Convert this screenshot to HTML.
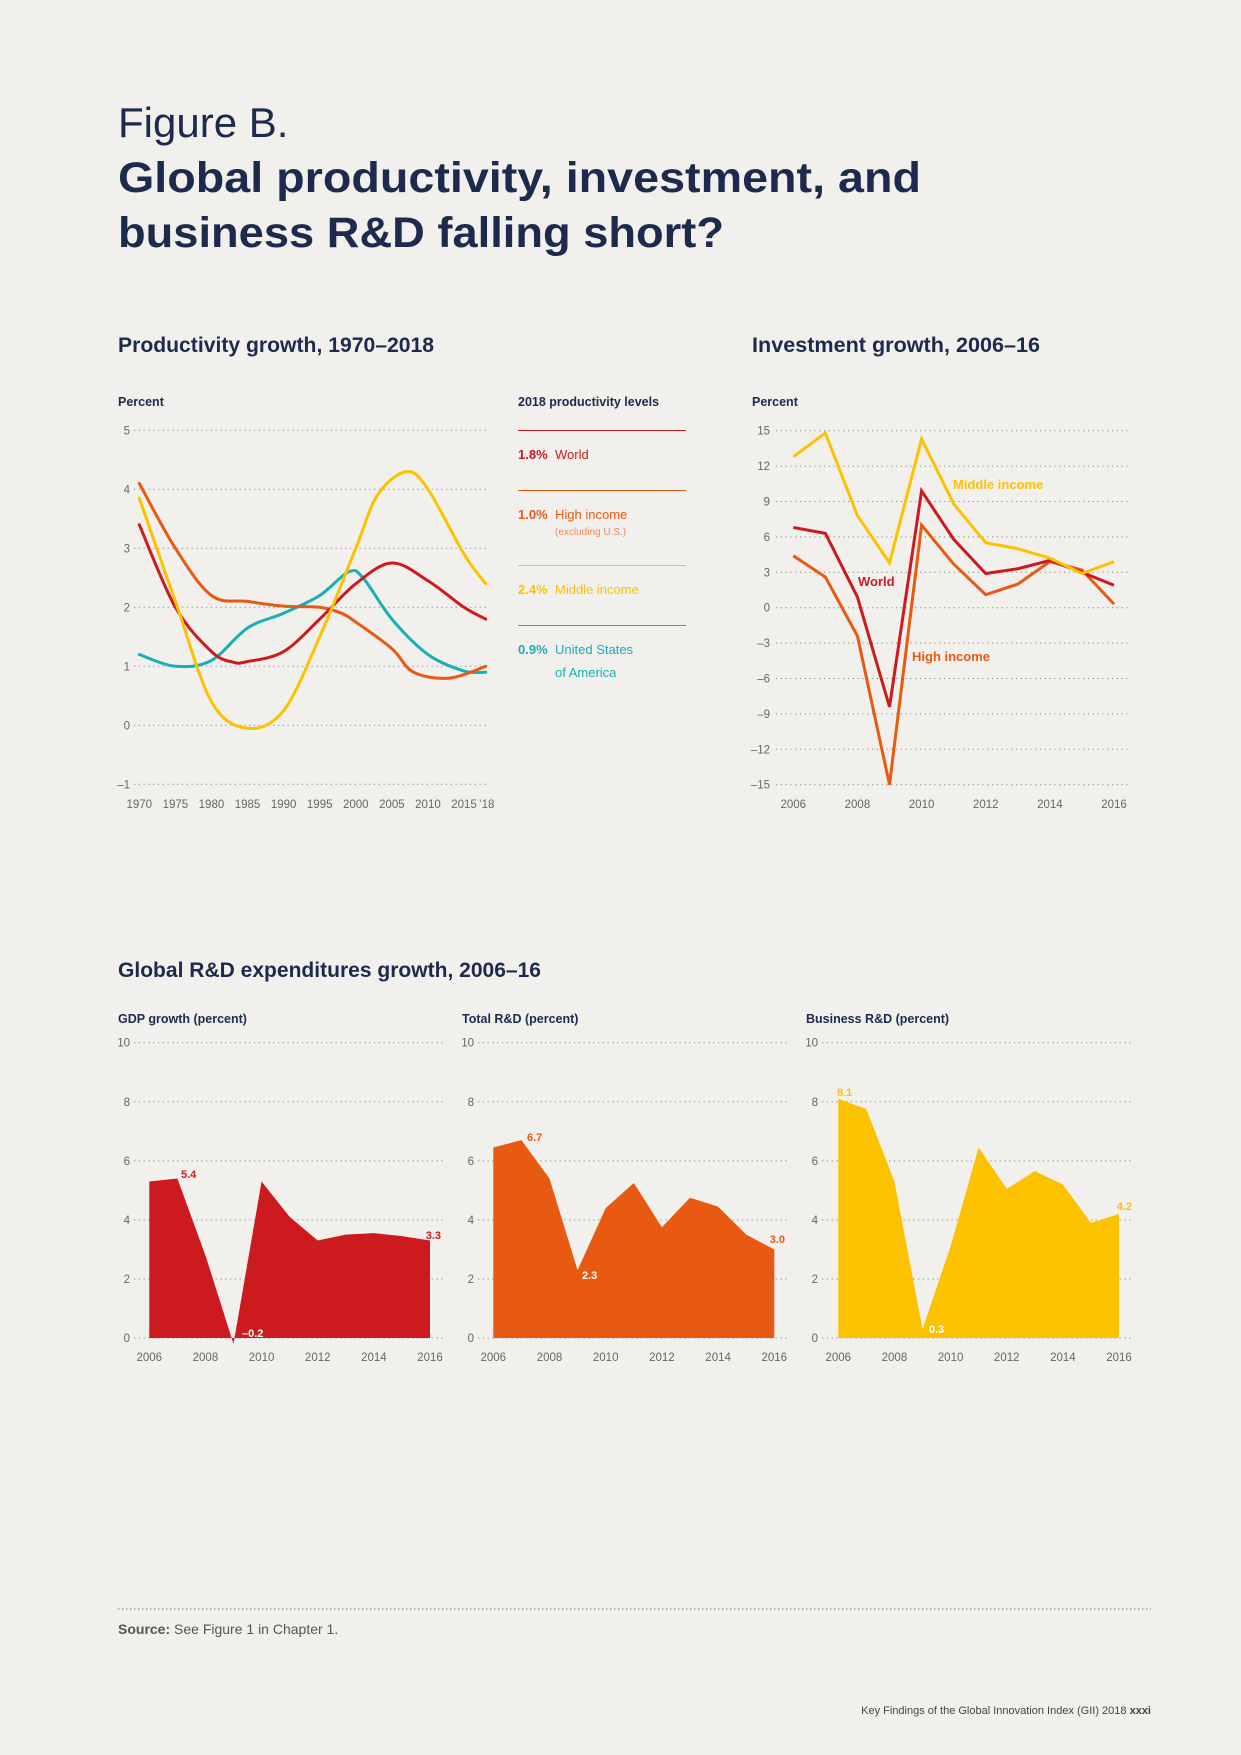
<!DOCTYPE html>
<html><head><meta charset="utf-8"><style>
body{margin:0;background:#f1f0ec;}
svg{display:block;font-family:"Liberation Sans",sans-serif;}
</style></head><body>
<svg id="s" width="1241" height="1755" viewBox="0 0 1241 1755">
<rect width="1241" height="1755" fill="#f1f0ec"/>
<text x="118" y="137" font-size="42" fill="#1d2a4d" font-weight="300">Figure B.</text>
<text x="118" y="192" font-size="43" fill="#1d2a4d" font-weight="bold" textLength="803" lengthAdjust="spacingAndGlyphs">Global productivity, investment, and</text>
<text x="118" y="247" font-size="43" fill="#1d2a4d" font-weight="bold" textLength="606" lengthAdjust="spacingAndGlyphs">business R&amp;D falling short?</text>
<text x="118" y="352" font-size="21" fill="#1d2a4d" font-weight="bold" textLength="316" lengthAdjust="spacingAndGlyphs">Productivity growth, 1970–2018</text>
<text x="752" y="352" font-size="21" fill="#1d2a4d" font-weight="bold" textLength="288" lengthAdjust="spacingAndGlyphs">Investment growth, 2006–16</text>
<text x="118" y="977" font-size="21" fill="#1d2a4d" font-weight="bold" textLength="423" lengthAdjust="spacingAndGlyphs">Global R&amp;D expenditures growth, 2006–16</text>
<g id="prod"></g>
<g id="inv"></g>
<g id="rd"></g>
<g font-size="13">
<text x="518" y="406" font-size="12.5" font-weight="bold" fill="#1d2a4d">2018 productivity levels</text>
<line x1="518" x2="686" y1="430.5" y2="430.5" stroke="#cc1a1f"/>
<text x="518" y="459" fill="#cc1a1f"><tspan font-weight="bold">1.8%</tspan><tspan x="555">World</tspan></text>
<line x1="518" x2="686" y1="490.5" y2="490.5" stroke="#e85a12"/>
<text x="518" y="519" fill="#e85a12"><tspan font-weight="bold">1.0%</tspan><tspan x="555">High income</tspan></text>
<text x="555" y="535" fill="#ee8a5a" font-size="10">(excluding U.S.)</text>
<line x1="518" x2="686" y1="565.5" y2="565.5" stroke="#fcc200"/>
<text x="518" y="594" fill="#fcc200"><tspan font-weight="bold">2.4%</tspan><tspan x="555">Middle income</tspan></text>
<line x1="518" x2="686" y1="625.5" y2="625.5" stroke="#19aeb8"/>
<text x="518" y="654" fill="#19aeb8"><tspan font-weight="bold">0.9%</tspan><tspan x="555">United States</tspan></text>
<text x="555" y="677" fill="#19aeb8">of America</text>
</g>
<line x1="118" x2="1151" y1="1609" y2="1609" stroke="#777" stroke-dasharray="1.5 2.5"/>
<text x="118" y="1634" font-size="14" fill="#555"><tspan font-weight="bold">Source:</tspan> See Figure 1 in Chapter 1.</text>
<text x="1151" y="1714" font-size="11" fill="#444" text-anchor="end">Key Findings of the Global Innovation Index (GII) 2018  <tspan font-weight="bold">xxxi</tspan></text>
</svg>
<script>
// Productivity data
const prodWorldYears=[1970,1975,1980,1983,1985,1990,1995,2000,2005,2010,2015,2018];
const prodWorld=[3.4,2.0,1.25,1.07,1.08,1.25,1.8,2.4,2.75,2.45,2.0,1.8];
const prodHighYears=[1970,1975,1980,1985,1990,1995,1998,2000,2005,2008,2013,2018];
const prodHigh=[4.1,3.0,2.2,2.1,2.02,2.0,1.9,1.75,1.3,0.9,0.8,1.0];
const prodMidYears=[1970,1975,1980,1985,1990,1995,2000,2003,2007,2010,2015,2018];
const prodMid=[3.85,2.1,0.4,-0.05,0.25,1.5,3.0,3.9,4.3,4.0,2.9,2.4];
const prodUSYears=[1970,1975,1980,1985,1990,1995,1999,2001,2005,2010,2015,2018];
const prodUS=[1.2,1.0,1.1,1.65,1.9,2.2,2.6,2.5,1.8,1.2,0.92,0.9];
const prodYTicks=[5,4,3,2,1,0,-1];
const prodXTicks=[1970,1975,1980,1985,1990,1995,2000,2005,2010,2015];
// Investment data
const invYears=[2006,2007,2008,2009,2010,2011,2012,2013,2014,2015,2016];
const invMiddle=[12.8,14.8,7.8,3.8,14.3,8.8,5.5,5.0,4.2,2.9,3.9];
const invWorld=[6.8,6.3,0.9,-8.4,9.9,5.8,2.9,3.3,4.0,3.0,1.9];
const invHigh=[4.4,2.6,-2.4,-15,7.0,3.7,1.1,2.0,3.9,3.2,0.3];
const invYTicks=[15,12,9,6,3,0,-3,-6,-9,-12,-15];
const invXTicks=[2006,2008,2010,2012,2014,2016];
// R&D data
const rdYears=[2006,2007,2008,2009,2010,2011,2012,2013,2014,2015,2016];
const gdpGrowth=[5.3,5.4,2.8,-0.2,5.3,4.1,3.3,3.5,3.55,3.45,3.3];
const totalRD=[6.45,6.7,5.4,2.3,4.4,5.25,3.75,4.75,4.45,3.5,3.0];
const businessRD=[8.1,7.75,5.3,0.3,3.1,6.45,5.05,5.65,5.2,3.9,4.2];
const rdYTicks=[10,8,6,4,2,0];

const NS="http://www.w3.org/2000/svg";
function mk(parent,tag,attrs,text){const e=document.createElementNS(NS,tag);for(const k in attrs)e.setAttribute(k,attrs[k]);if(text!==undefined)e.textContent=text;parent.appendChild(e);return e;}
const C={red:"#cc1a1f",orange:"#e85a12",yellow:"#fcc200",teal:"#19aeb8"};

function grid(g,ticks,yS,x1,x2,labX,fmt,name){
  ticks.forEach(t=>{
    const l=mk(g,"line",{x1:x1,x2:x2,y1:yS(t),y2:yS(t),stroke:"#888","stroke-dasharray":"1.2 3.6","stroke-width":1});
    
    
    const tx=mk(g,"text",{x:labX,y:yS(t)+4,"font-size":11.5,fill:"#666","text-anchor":"end"},fmt(t));
    
    
  });
}
const fmtNeg=t=>t<0?"–"+Math.abs(t):String(t);

// Productivity chart
(function(){
  const g=document.getElementById("prod");
  const xS=y=>139.3+(y-1970)*(485.7-139.3)/48;
  const yS=v=>725.3-v*59;
  const p=mk(g,"text",{x:118,y:406,"font-size":12.5,"font-weight":"bold",fill:"#1d2a4d"},"Percent");
  
  
  grid(g,prodYTicks,yS,134,488,130,fmtNeg,"productivity");
  prodXTicks.forEach(t=>{
    const tx=mk(g,"text",{x:xS(t),y:808,"font-size":11.5,fill:"#666","text-anchor":"middle"},String(t));
    
    
  });
  const t18=mk(g,"text",{x:xS(2018)+1,y:808,"font-size":11.5,fill:"#666","text-anchor":"middle"},"’18");
  
  
  function smooth(xs,vs){
    const pts=xs.map((x,i)=>[xS(x),yS(vs[i])]);
    let d="M"+pts[0][0]+","+pts[0][1];
    for(let i=0;i<pts.length-1;i++){
      const p0=pts[Math.max(0,i-1)],p1=pts[i],p2=pts[i+1],p3=pts[Math.min(pts.length-1,i+2)];
      const c1=[p1[0]+(p2[0]-p0[0])/6,p1[1]+(p2[1]-p0[1])/6];
      const c2=[p2[0]-(p3[0]-p1[0])/6,p2[1]-(p3[1]-p1[1])/6];
      d+=" C"+c1+" "+c2+" "+p2;
    }
    return d;
  }
  [[prodUSYears,prodUS,C.teal,"us"],[prodHighYears,prodHigh,C.orange,"high-income"],[prodWorldYears,prodWorld,C.red,"world"],[prodMidYears,prodMid,C.yellow,"middle-income"]].forEach(s=>{
    const path=mk(g,"path",{d:smooth(s[0],s[1]),fill:"none",stroke:s[2],"stroke-width":3,"stroke-linecap":"round"});
    
    
  });
})();

// Investment chart
(function(){
  const g=document.getElementById("inv");
  const xS=y=>793.3+(y-2006)*(1114-793.3)/10;
  const yS=v=>607.7-v*11.8;
  const p=mk(g,"text",{x:752,y:406,"font-size":12.5,"font-weight":"bold",fill:"#1d2a4d"},"Percent");
  
  
  grid(g,invYTicks,yS,776,1128,770,fmtNeg,"investment");
  invXTicks.forEach(t=>{
    const tx=mk(g,"text",{x:xS(t),y:808,"font-size":11.5,fill:"#666","text-anchor":"middle"},String(t));
    
    
  });
  [[invHigh,C.orange,"high-income"],[invWorld,C.red,"world"],[invMiddle,C.yellow,"middle-income"]].forEach(s=>{
    const pl=mk(g,"polyline",{points:invYears.map((y,i)=>xS(y)+","+yS(s[0][i])).join(" "),fill:"none",stroke:s[1],"stroke-width":3,"stroke-linejoin":"miter"});
    
    
  });
  const l1=mk(g,"text",{x:953,y:489,"font-size":13,"font-weight":"bold",fill:C.yellow},"Middle income");
  
  
  const l2=mk(g,"text",{x:858,y:586,"font-size":13,"font-weight":"bold",fill:C.red},"World");
  
  
  const l3=mk(g,"text",{x:912,y:661,"font-size":13,"font-weight":"bold",fill:C.orange},"High income");
  
  
})();

// R&D area charts
(function(){
  const g=document.getElementById("rd");
  const yS=v=>1338-v*29.53;
  const panels=[
    {name:"gdp",title:"GDP growth (percent)",data:gdpGrowth,x0:149.3,x1:430,gx0:134,gx1:443,lab:130,col:C.red,
     labels:[[1,"5.4",181,1178,C.red,"start"],[3,"–0.2",242,1337,"#fff","start"],[10,"3.3",441,1239,C.red,"end"]]},
    {name:"total-rd",title:"Total R&D (percent)",data:totalRD,x0:493.3,x1:774.3,gx0:478,gx1:788,lab:474,col:C.orange,
     labels:[[1,"6.7",527,1141,C.orange,"start"],[3,"2.3",582,1279,"#fff","start"],[10,"3.0",785,1243,C.orange,"end"]]},
    {name:"business-rd",title:"Business R&D (percent)",data:businessRD,x0:838.3,x1:1119,gx0:822,gx1:1133,lab:818,col:C.yellow,
     labels:[[0,"8.1",837,1096,C.yellow,"start"],[3,"0.3",929,1333,"#fff","start"],[10,"4.2",1132,1210,C.yellow,"end"]]}
  ];
  panels.forEach(P=>{
    const xS=y=>P.x0+(y-2006)*(P.x1-P.x0)/10;
    const t=mk(g,"text",{x:P.gx0-16,y:1023,"font-size":12.5,"font-weight":"bold",fill:"#1d2a4d"},P.title);
    
    
    grid(g,rdYTicks,yS,P.gx0,P.gx1,P.lab,String,P.name);
    invXTicks.forEach(v=>{
      const tx=mk(g,"text",{x:xS(v),y:1361,"font-size":11.5,fill:"#666","text-anchor":"middle"},String(v));
      
      
    });
    let pts=xS(2006)+","+yS(0)+" "+rdYears.map((y,i)=>xS(y)+","+yS(P.data[i])).join(" ")+" "+xS(2016)+","+yS(0);
    const a=mk(g,"polygon",{points:pts,fill:P.col});
    
    
    P.labels.forEach(L=>{
      const tx=mk(g,"text",{x:L[2],y:L[3],"font-size":11,"font-weight":"bold",fill:L[4],"text-anchor":L[5]},L[1]);
      
      
    });
  });
})();
</script>
</body></html>
